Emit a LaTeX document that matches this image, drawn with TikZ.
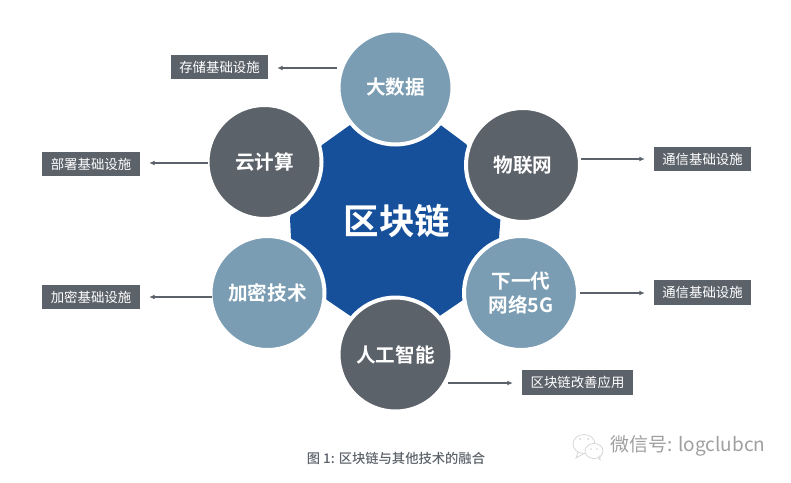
\documentclass[tikz,border=0pt]{standalone}
\usepackage{fontspec}
\setmainfont{Noto Sans CJK SC}[BoldFont={Noto Sans CJK SC Bold}]
\newfontfamily\capfont{Noto Sans CJK SC Medium}
\usepackage{tikz}
\usepackage{xcolor}
\usetikzlibrary{arrows.meta}
\definecolor{hubblue}{HTML}{16509B}
\definecolor{slate}{HTML}{5C626A}
\definecolor{steel}{HTML}{7A9DB3}
\tikzset{
  ball/.style={circle,draw=white,line width=4pt,minimum size=114pt,inner sep=0pt,text=white,font=\fontsize{19.6}{24}\selectfont\bfseries,align=center},
  tag/.style={fill=slate,text=white,minimum height=24.5pt,inner sep=0pt,font=\fontsize{13.4}{13.4}\selectfont},
  flow/.style={-{Latex[length=5.5pt,width=5pt]},slate,line width=1.4pt,shorten >=9pt}
}

\begin{document}
\begin{tikzpicture}[x=1pt,y=-1pt]
  \useasboundingbox (0,0) rectangle (791,482);
  \fill[hubblue] (350,125) -- (322,145) -- (300,180) -- (290,218) -- (291,238) -- (305,275) -- (327,300) -- (350.5,316)
    -- (439.5,316) -- (463,300) -- (486,275) -- (499,238) -- (500.5,218) -- (490,180) -- (466,144) -- (440.5,125) -- cycle;
  \node[text=white,font=\fontsize{35.5}{36}\selectfont\bfseries] (hub) at (397,221) {区块链};

  \node[ball,fill=steel] (data) at (395.5,87.5) {大数据};
  \node[ball,fill=slate] (iot) at (523,165) {物联网};
  \node[ball,fill=steel] (net) at (521,293) {下一代\\网络5G};
  \node[ball,fill=slate] (ai) at (395.5,354.5) {人工智能};
  \node[ball,fill=steel] (crypto) at (267.5,293) {加密技术};
  \node[ball,fill=slate] (cloud) at (264.5,162) {云计算};

  \node[tag,minimum width=97pt] (store) at (219.5,67) {存储基础设施};
  \node[tag,minimum width=98pt] (deploy) at (91,164) {部署基础设施};
  \node[tag,minimum width=98pt] (encrypt) at (91,297) {加密基础设施};
  \node[tag,minimum width=97pt] (comma) at (702.5,159) {通信基础设施};
  \node[tag,minimum width=97pt] (commb) at (702.5,292.5) {通信基础设施};
  \node[tag,minimum width=111pt] (app) at (577.5,382.5) {区块链改善应用};

  \coordinate (dataout) at (337,68);
  \coordinate (cloudout) at (208,163);
  \coordinate (cryptoout) at (212,297);
  \coordinate (iotout) at (581,159);
  \coordinate (netout) at (580,293);
  \coordinate (aiout) at (448,383);
  \draw[flow] (dataout) -- (store.east |- dataout);
  \draw[flow] (cloudout) -- (deploy.east |- cloudout);
  \draw[flow] (cryptoout) -- (encrypt.east |- cryptoout);
  \draw[flow] (iotout) -- (comma.west |- iotout);
  \draw[flow] (netout) -- (commb.west |- netout);
  \draw[flow] (aiout) -- (app.west |- aiout);

  \node[text=slate,font=\capfont\fontsize{13.3}{14}\selectfont] (caption) at (396,458) {图 1: 区块链与其他技术的融合};

  % wechat mark
  \draw[gray!35,line width=0.7pt] (584,444) ellipse [x radius=11,y radius=9.5];
  \draw[gray!35,line width=0.7pt] (578,452) -- (576,458) -- (583,454);
  \draw[gray!35,line width=0.7pt,fill=white] (594,451) ellipse [x radius=9,y radius=7.5];
  \draw[gray!35,line width=0.7pt] (598,457) -- (600,460) -- (600,455);
  \fill[gray!35] (580,439) circle [radius=1] (588,439) circle [radius=1] (591,449) circle [radius=0.9] (597,449) circle [radius=0.9];
  \node[text=gray!75,font=\fontsize{19}{20}\selectfont] (mark) at (688,446) {微信号: logclubcn};
\end{tikzpicture}
\end{document}
